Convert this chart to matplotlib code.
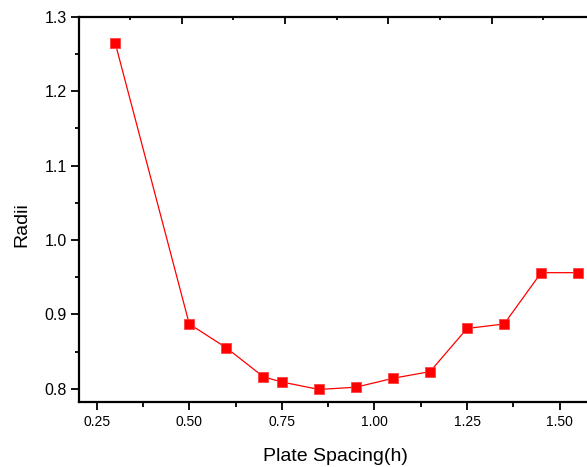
import numpy as np
import matplotlib.pyplot as plt
from matplotlib.ticker import MultipleLocator

plt.rcParams['font.family'] = ['Liberation Sans', 'DejaVu Sans']

# plate spacing (h) and measured radii
spacing = [0.30, 0.50, 0.60, 0.70, 0.75, 0.85, 0.95, 1.05, 1.15, 1.25, 1.35, 1.45, 1.55]
radii = [1.265, 0.887, 0.855, 0.816, 0.809, 0.799, 0.802, 0.814, 0.823, 0.881, 0.887, 0.956, 0.956]

fig = plt.figure(figsize=(5.87, 4.67), dpi=100)
ax = fig.add_axes([0.134, 0.139, 0.866, 0.825])

ax.plot(spacing, radii, color='#ff0000', lw=0.9, marker='s', ms=7.2,
        mfc='#ff0000', mec='#ff4040', mew=0.6)

ax.set_xlim(0.2014, 1.5737)
ax.set_ylim(0.782, 1.3)
ax.xaxis.set_minor_locator(MultipleLocator(0.125))
ax.yaxis.set_minor_locator(MultipleLocator(0.05))
ax.set_xticks([0.25, 0.5, 0.75, 1.0, 1.25, 1.5])
ax.set_xticklabels(['0.25', '0.50', '0.75', '1.00', '1.25', '1.50'])
ax.set_yticks([0.8, 0.9, 1.0, 1.1, 1.2, 1.3])
ax.set_yticklabels(['0.8', '0.9', '1.0', '1.1', '1.2', '1.3'])

for s in ['left', 'bottom', 'top']:
    ax.spines[s].set_linewidth(1.6)
ax.spines['right'].set_visible(False)

ax.tick_params(axis='x', which='major', direction='out', length=5.8, width=1.3,
               labelsize=10, pad=3.5)
ax.tick_params(axis='x', which='minor', direction='out', length=3.4, width=1.3)
ax.tick_params(axis='y', which='major', direction='out', length=5.5, width=1.3,
               labelsize=11.5, pad=3)
ax.tick_params(axis='y', which='minor', direction='out', length=3, width=1.3)

# top axis with its own ticks, no labels
top = ax.twiny()
top.set_xlim(0, 4.925)
top.xaxis.set_major_locator(MultipleLocator(1))
top.xaxis.set_minor_locator(MultipleLocator(0.5))
top.tick_params(axis='x', which='major', direction='in', length=5, width=1.3, labeltop=False)
top.tick_params(axis='x', which='minor', direction='in', length=2.5, width=1.3)
for s in top.spines.values():
    s.set_visible(False)

ax.set_xlabel('Plate Spacing(h)', fontsize=14)
ax.set_ylabel('Radii', fontsize=14)
ax.xaxis.set_label_coords(0.506, -0.118)
ax.yaxis.set_label_coords(-0.095, 0.462)

fig.savefig('out.png', dpi=100)
